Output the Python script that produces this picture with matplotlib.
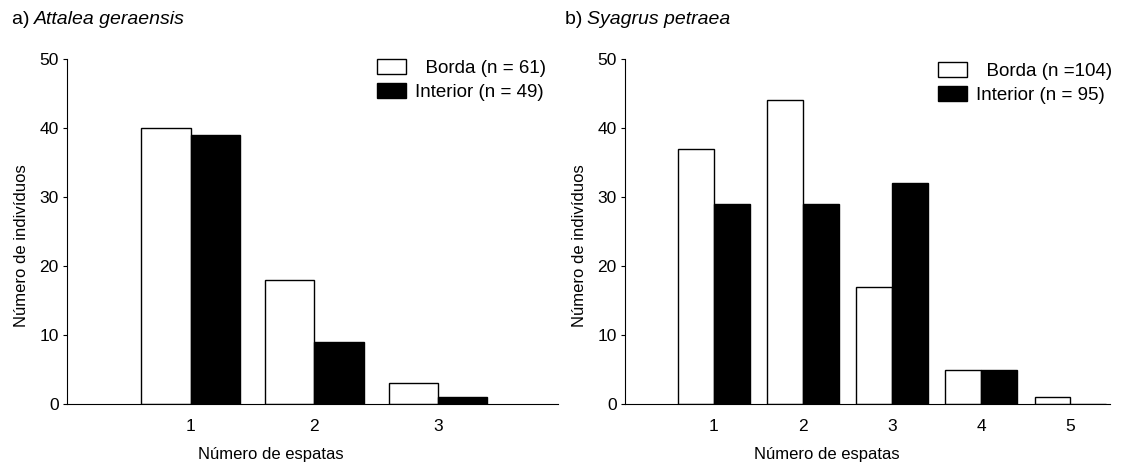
import matplotlib.pyplot as plt
import numpy as np

plt.rcParams['font.family'] = ['Liberation Sans', 'DejaVu Sans']

# a) Attalea geraensis
cats_a = [1, 2, 3]
borda_a = [40, 18, 3]
interior_a = [39, 9, 1]

# b) Syagrus petraea
cats_b = [1, 2, 3, 4, 5]
borda_b = [37, 44, 17, 5, 1]
interior_b = [29, 29, 32, 5, 0]

fig = plt.figure(figsize=(11.26, 4.72), dpi=100)
ax1 = fig.add_axes([0.0595, 0.144, 0.436, 0.731])
ax2 = fig.add_axes([0.555, 0.144, 0.431, 0.731])


def draw_panel(ax, cats, borda, interior, lab_b, lab_i, xmax, xlab_x, leg_anchor):
    x = np.array(cats)
    w = 0.4
    ax.bar(x - w / 2, borda, w, color='white', edgecolor='black', linewidth=1.0,
           label=lab_b)
    ax.bar(x + w / 2, interior, w, color='black', edgecolor='black', linewidth=1.0,
           label=lab_i)
    ax.set_xlim(0, xmax)
    ax.set_ylim(0, 50)
    ax.set_xticks(cats)
    ax.set_yticks([0, 10, 20, 30, 40, 50])
    ax.tick_params(axis='x', length=0, labelsize=12.5, pad=10.5)
    ax.tick_params(axis='y', length=3, labelsize=12.5, pad=3)
    for s in ['top', 'right']:
        ax.spines[s].set_visible(False)
    ax.set_xlabel('Número de espatas', fontsize=12, va='center')
    ax.xaxis.set_label_coords(xlab_x, -0.145)
    ax.set_ylabel('Número de indivíduos', fontsize=12, va='center')
    ax.yaxis.set_label_coords(-0.093, 0.458)
    ax.legend(loc='upper right', frameon=False, fontsize=13.5, handlelength=1.55,
              handleheight=0.85, handletextpad=0.45, labelspacing=0.32,
              borderpad=0.0, borderaxespad=0.0, bbox_to_anchor=leg_anchor)


draw_panel(ax1, cats_a, borda_a, interior_a, '  Borda (n = 61)', 'Interior (n = 49)',
           3.97, 0.415, (0.975, 1.0))
draw_panel(ax2, cats_b, borda_b, interior_b, '  Borda (n =104)', 'Interior (n = 95)',
           5.45, 0.417, (1.003, 0.99))

fig.text(0.011, 0.958, 'a) ', fontsize=14, ha='left', va='center')
fig.text(0.030, 0.958, 'Attalea geraensis', fontsize=14, style='italic', ha='left', va='center')
fig.text(0.502, 0.958, 'b) ', fontsize=14, ha='left', va='center')
fig.text(0.521, 0.958, 'Syagrus petraea', fontsize=14, style='italic', ha='left', va='center')

plt.savefig('out.png', dpi=100)
plt.close()
